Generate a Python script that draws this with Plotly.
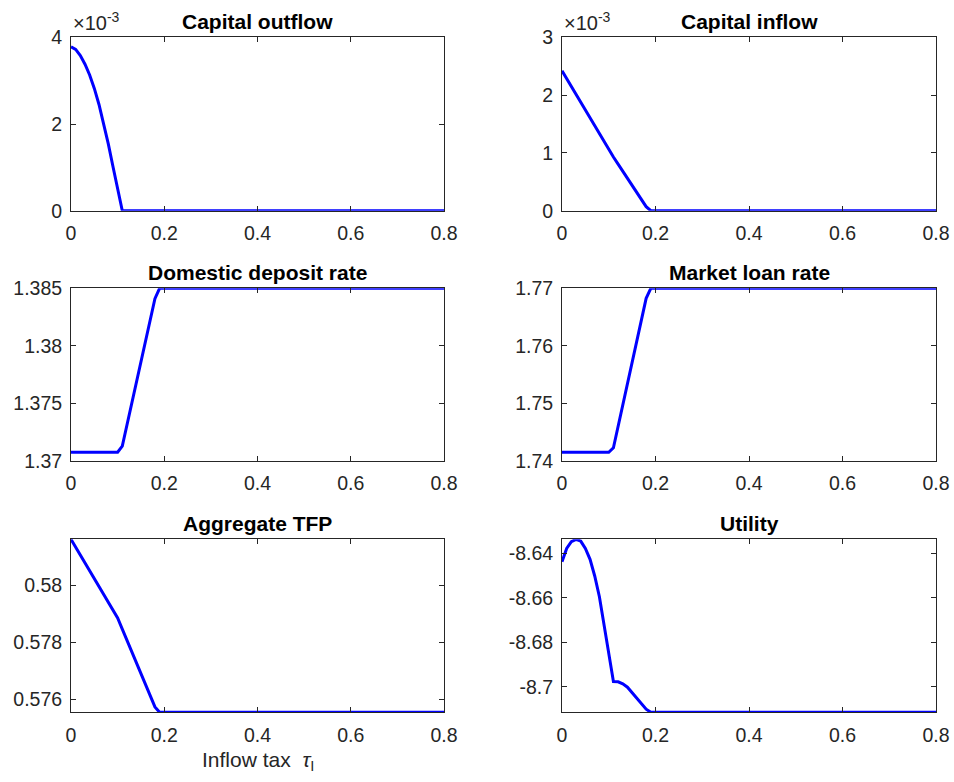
import plotly.graph_objects as go

# ---------------- data ----------------
tau = [0.00, 0.01, 0.02, 0.03, 0.04, 0.05, 0.06, 0.07, 0.08, 0.09,
       0.10, 0.11, 0.12, 0.13, 0.14, 0.15, 0.16, 0.17, 0.18, 0.19, 0.80]

capital_outflow = [3.78e-3, 3.72e-3, 3.58e-3, 3.38e-3, 3.13e-3, 2.82e-3, 2.45e-3,
                   2.02e-3, 1.54e-3, 1.02e-3, 0.47e-3, 0.0, 0.0, 0.0, 0.0, 0.0,
                   0.0, 0.0, 0.0, 0.0, 0.0]

capital_inflow = [2.42e-3, 2.283e-3, 2.146e-3, 2.009e-3, 1.872e-3, 1.735e-3, 1.598e-3,
                  1.461e-3, 1.324e-3, 1.187e-3, 1.05e-3, 0.928e-3, 0.805e-3, 0.683e-3,
                  0.56e-3, 0.438e-3, 0.315e-3, 0.193e-3, 0.07e-3, 0.0, 0.0]

deposit_rate = [1.37076, 1.37076, 1.37076, 1.37076, 1.37076, 1.37076, 1.37076,
                1.37076, 1.37076, 1.37076, 1.37076, 1.37130, 1.37313, 1.37496,
                1.37679, 1.37862, 1.38045, 1.38228, 1.38410, 1.38500, 1.38500]

loan_rate = [1.74151, 1.74151, 1.74151, 1.74151, 1.74151, 1.74151, 1.74151,
             1.74151, 1.74151, 1.74151, 1.74151, 1.74231, 1.74602, 1.74973,
             1.75343, 1.75714, 1.76085, 1.76455, 1.76826, 1.77000, 1.77000]

tfp = [0.58160, 0.58133, 0.58105, 0.58078, 0.58050, 0.58023, 0.57995,
       0.57968, 0.57940, 0.57913, 0.57885, 0.57846, 0.57807, 0.57768,
       0.57729, 0.57690, 0.57652, 0.57613, 0.57574, 0.57555, 0.57555]

utility = [-8.6438, -8.6378, -8.6348, -8.6337, -8.6345, -8.6378, -8.6427,
           -8.6502, -8.6595, -8.6722, -8.6849, -8.6977, -8.6978, -8.6987,
           -8.7002, -8.7026, -8.7052, -8.7077, -8.7101, -8.7115, -8.7115]

titles = ["Capital outflow", "Capital inflow", "Domestic deposit rate",
          "Market loan rate", "Aggregate TFP", "Utility"]
series = [capital_outflow, capital_inflow, deposit_rate, loan_rate, tfp, utility]

x_ticks = [0, 0.2, 0.4, 0.6, 0.8]
x_ticktext = ["0", "0.2", "0.4", "0.6", "0.8"]

y_ranges = [[0, 0.004], [0, 0.003], [1.37, 1.385], [1.74, 1.77],
            [0.57555, 0.5816], [-8.7115, -8.6337]]
y_tickvals = [[0, 0.002, 0.004], [0, 0.001, 0.002, 0.003],
              [1.37, 1.375, 1.38, 1.385], [1.74, 1.75, 1.76, 1.77],
              [0.576, 0.578, 0.58], [-8.70, -8.68, -8.66, -8.64]]
y_ticktext = [["0", "2", "4"], ["0", "1", "2", "3"],
              ["1.37", "1.375", "1.38", "1.385"], ["1.74", "1.75", "1.76", "1.77"],
              ["0.576", "0.578", "0.58"], ["-8.7", "-8.68", "-8.66", "-8.64"]]

# ---------------- layout geometry ----------------
# body margin is removed by a post script, so the figure fills the window
W, H = 954, 782


def px_x(p):
    return p / W


def px_y(p):
    return 1 - p / H


col_dom = [[px_x(71), px_x(444)], [px_x(562), px_x(936)]]
row_dom = [[px_y(210.7), px_y(37.3)],
           [px_y(461.0), px_y(288.3)],
           [px_y(712.3), px_y(539.3)]]

FONT = "Liberation Sans, Arial, Helvetica, sans-serif"
AX_COLOR = "#262626"

fig = go.Figure()
layout = dict(
    template="none",
    width=W, height=H, autosize=False,
    margin=dict(l=0, r=0, t=0, b=0, pad=0),
    paper_bgcolor="white", plot_bgcolor="white",
    showlegend=False,
    font=dict(family=FONT, size=19.5, color=AX_COLOR),
)
annotations = []

for i in range(6):
    r, c = divmod(i, 2)
    n = i + 1
    xa = "x" if n == 1 else f"x{n}"
    ya = "y" if n == 1 else f"y{n}"
    fig.add_trace(go.Scatter(x=tau, y=series[i], mode="lines",
                             line=dict(color="#0000ff", width=3),
                             xaxis=xa, yaxis=ya, hoverinfo="skip"))
    common = dict(showgrid=False, zeroline=False, showline=True, linecolor=AX_COLOR,
                  linewidth=1, mirror="ticks", ticks="inside", ticklen=5,
                  tickcolor=AX_COLOR, tickwidth=1, automargin=False,
                  ticklabeloverflow="allow",
                  tickfont=dict(family=FONT, size=19.5, color=AX_COLOR))
    layout[f"xaxis{'' if n == 1 else n}"] = dict(
        domain=col_dom[c], anchor=ya, range=[0, 0.8],
        tickvals=x_ticks, ticktext=x_ticktext, ticklabelstandoff=5, **common)
    layout[f"yaxis{'' if n == 1 else n}"] = dict(
        domain=row_dom[r], anchor=xa, range=y_ranges[i],
        tickvals=y_tickvals[i], ticktext=y_ticktext[i], ticklabelstandoff=4, **common)
    annotations.append(dict(
        text=f"<b>{titles[i]}</b>", xref="paper", yref="paper",
        x=(col_dom[c][0] + col_dom[c][1]) / 2, y=row_dom[r][1],
        xanchor="center", yanchor="bottom", yshift=2, showarrow=False,
        font=dict(family=FONT, size=21, color="black")))

for c in range(2):
    annotations.append(dict(
        text="×10<sup>-3</sup>", xref="paper", yref="paper",
        x=col_dom[c][0], y=row_dom[0][1], xanchor="left", yanchor="bottom",
        xshift=0, yshift=1, showarrow=False,
        font=dict(family=FONT, size=20, color=AX_COLOR)))

annotations.append(dict(
    text="Inflow tax  <i>τ</i><sub>I</sub>", xref="paper", yref="paper",
    x=(col_dom[0][0] + col_dom[0][1]) / 2, y=row_dom[2][0],
    xanchor="center", yanchor="top", yshift=-34, showarrow=False,
    font=dict(family=FONT, size=21, color=AX_COLOR)))

layout["annotations"] = annotations
fig.update_layout(**layout)
fig.write_html(
    "out.html",
    config={"displayModeBar": False, "staticPlot": True},
    post_script=("document.body.style.margin='0';"
                 "document.body.style.overflow='hidden';"
                 "document.documentElement.style.overflow='hidden';"),
)
